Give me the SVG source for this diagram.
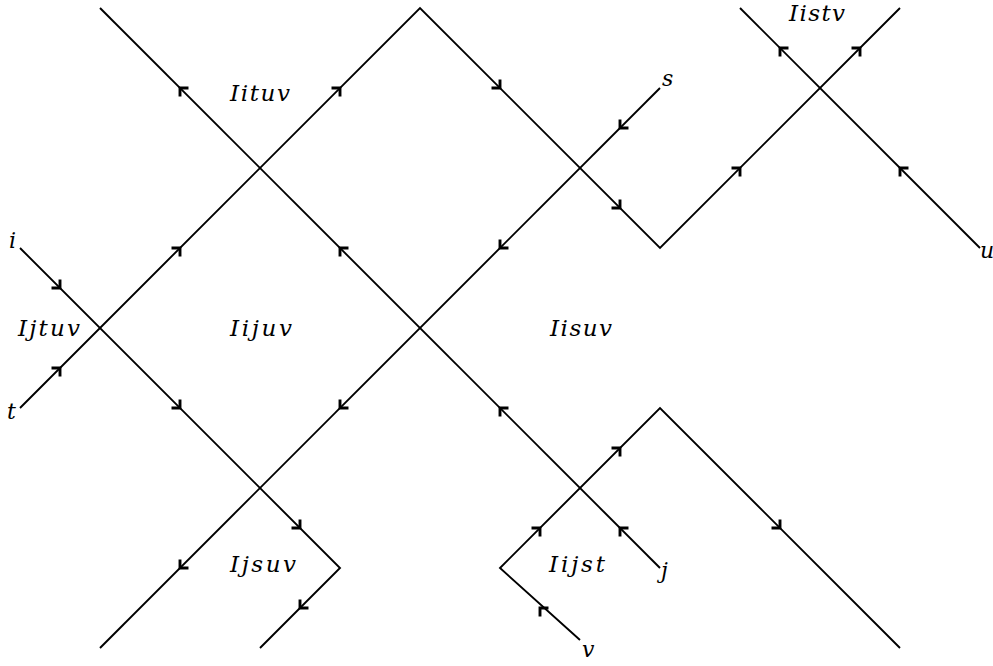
<svg xmlns="http://www.w3.org/2000/svg" xmlns:xlink="http://www.w3.org/1999/xlink" width="993" height="666" viewBox="0 0 993 666">
<style>
.ln{fill:none;stroke:#000;stroke-width:1.9;stroke-linejoin:miter}
.hd{fill:none;stroke:#000;stroke-width:2.9;stroke-linejoin:miter;stroke-linecap:butt}
.lb{font-family:"DejaVu Serif","Liberation Serif",serif;font-style:italic;font-size:23px;fill:#000}
.pt{font-family:"DejaVu Serif","Liberation Serif",serif;font-style:italic;font-size:22px;fill:#000}
</style>
<defs>
<path id="h" class="hd" d="M-6,-6 L0,0 L-6,6"/>
</defs>
<rect width="993" height="666" fill="#fff"/>
<g id="connectors">
<polyline class="ln" points="100,8 660,568"/>
<polyline class="ln" points="100,648 660,88"/>
<polyline class="ln" points="20,408 420,8 660,248 900,8"/>
<polyline class="ln" points="20,248 340,568 260,648"/>
<polyline class="ln" points="580,640 500,568 660,408 900,648"/>
<polyline class="ln" points="980,248 740,8"/>
<use xlink:href="#h" transform="translate(180,88) rotate(-135)"/>
<use xlink:href="#h" transform="translate(340,248) rotate(-135)"/>
<use xlink:href="#h" transform="translate(500,408) rotate(-135)"/>
<use xlink:href="#h" transform="translate(620,528) rotate(-135)"/>
<use xlink:href="#h" transform="translate(180,568) rotate(135)"/>
<use xlink:href="#h" transform="translate(340,408) rotate(135)"/>
<use xlink:href="#h" transform="translate(500,248) rotate(135)"/>
<use xlink:href="#h" transform="translate(620,128) rotate(135)"/>
<use xlink:href="#h" transform="translate(60,368) rotate(-45)"/>
<use xlink:href="#h" transform="translate(180,248) rotate(-45)"/>
<use xlink:href="#h" transform="translate(340,88) rotate(-45)"/>
<use xlink:href="#h" transform="translate(500,88) rotate(45)"/>
<use xlink:href="#h" transform="translate(620,208) rotate(45)"/>
<use xlink:href="#h" transform="translate(740,168) rotate(-45)"/>
<use xlink:href="#h" transform="translate(860,48) rotate(-45)"/>
<use xlink:href="#h" transform="translate(60,288) rotate(45)"/>
<use xlink:href="#h" transform="translate(180,408) rotate(45)"/>
<use xlink:href="#h" transform="translate(300,528) rotate(45)"/>
<use xlink:href="#h" transform="translate(300,608) rotate(135)"/>
<use xlink:href="#h" transform="translate(540,608) rotate(-135)"/>
<use xlink:href="#h" transform="translate(540,528) rotate(-45)"/>
<use xlink:href="#h" transform="translate(620,448) rotate(-45)"/>
<use xlink:href="#h" transform="translate(780,528) rotate(45)"/>
<use xlink:href="#h" transform="translate(900,168) rotate(-135)"/>
<use xlink:href="#h" transform="translate(780,48) rotate(-135)"/>
</g>
<g id="regions">
<text class="lb" x="230" y="101" textLength="60" lengthAdjust="spacing">Iituv</text>
<text class="lb" x="230" y="336" textLength="62" lengthAdjust="spacing">Iijuv</text>
<text class="lb" x="550" y="336" textLength="62" lengthAdjust="spacing">Iisuv</text>
<text class="lb" x="18" y="336" textLength="62" lengthAdjust="spacing">Ijtuv</text>
<text class="lb" x="230" y="572" textLength="66" lengthAdjust="spacing">Ijsuv</text>
<text class="lb" x="549" y="572" textLength="56" lengthAdjust="spacing">Iijst</text>
<text class="lb" x="789" y="21" textLength="56" lengthAdjust="spacing">Iistv</text>
</g>
<g id="ends">
<text class="pt" x="9" y="248">i</text>
<text class="pt" x="7" y="419">t</text>
<text class="pt" x="662" y="86">s</text>
<text class="pt" x="980" y="258">u</text>
<text class="pt" x="661" y="578">j</text>
<text class="pt" x="582" y="657">v</text>
</g>
</svg>
